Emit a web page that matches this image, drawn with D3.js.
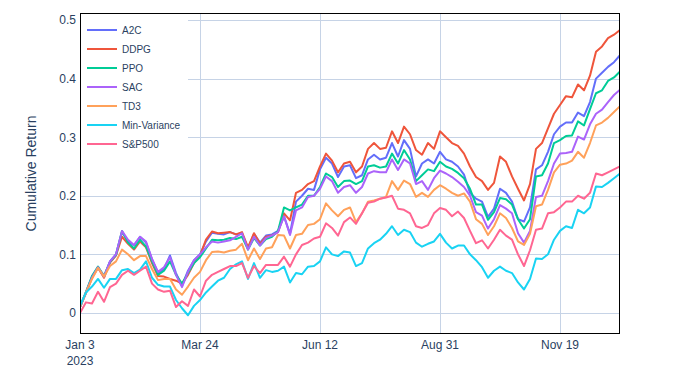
<!DOCTYPE html>
<html lang="en">
<head>
  <title>Cumulative return</title>
  <meta charset="UTF-8">
  <style>
    body {
      margin: 0;
      background: #fff;
      font-family: "Liberation Sans", Arial, sans-serif;
    }
  </style>
  <script src="https://cdn.jsdelivr.net/npm/d3@7"></script>
</head>
<body>
<script>
  var dates = [
    "2023-01-03", "2023-01-07", "2023-01-11", "2023-01-15", "2023-01-19", "2023-01-23", "2023-01-27", "2023-01-31",
    "2023-02-04", "2023-02-08", "2023-02-12", "2023-02-16", "2023-02-20", "2023-02-24", "2023-02-28",
    "2023-03-04", "2023-03-08", "2023-03-12", "2023-03-16", "2023-03-20", "2023-03-24", "2023-03-28",
    "2023-04-01", "2023-04-05", "2023-04-09", "2023-04-13", "2023-04-17", "2023-04-21", "2023-04-25", "2023-04-29",
    "2023-05-03", "2023-05-07", "2023-05-11", "2023-05-15", "2023-05-19", "2023-05-23", "2023-05-27", "2023-05-31",
    "2023-06-04", "2023-06-08", "2023-06-12", "2023-06-16", "2023-06-20", "2023-06-24", "2023-06-28",
    "2023-07-02", "2023-07-06", "2023-07-10", "2023-07-14", "2023-07-18", "2023-07-22", "2023-07-26", "2023-07-30",
    "2023-08-03", "2023-08-07", "2023-08-11", "2023-08-15", "2023-08-19", "2023-08-23", "2023-08-27", "2023-08-31",
    "2023-09-04", "2023-09-08", "2023-09-12", "2023-09-16", "2023-09-20", "2023-09-24", "2023-09-28",
    "2023-10-02", "2023-10-06", "2023-10-10", "2023-10-14", "2023-10-18", "2023-10-22", "2023-10-26", "2023-10-30",
    "2023-11-03", "2023-11-07", "2023-11-11", "2023-11-15", "2023-11-19", "2023-11-23", "2023-11-27",
    "2023-12-01", "2023-12-05", "2023-12-09", "2023-12-13", "2023-12-17", "2023-12-21", "2023-12-25", "2023-12-29"
  ];

  var a2c = [.01, .035, .062, .078, .062, .088, .1, .138, .122, .115, .13, .12, .092, .068, .075, .098, .068, .046, .072, .09,
    .1, .122, .137, .135, .134, .138, .134, .136, .11, .135, .12, .132, .134, .14, .165, .135, .19, .2, .212, .21,
    .245, .265, .255, .232, .25, .252, .23, .235, .262, .27, .262, .265, .29, .267, .295, .28, .233, .255, .262, .255,
    .275, .262, .258, .25, .236, .205, .195, .19, .164, .178, .212, .205, .19, .16, .156, .18, .245, .252, .275, .305,
    .318, .325, .325, .342, .336, .36, .4, .41, .42, .428, .44];

  var ddpg = [.01, .034, .06, .077, .06, .086, .098, .13, .118, .108, .122, .112, .085, .063, .062, .058, .055, .05, .065, .085,
    .098, .125, .139, .136, .137, .138, .134, .138, .112, .136, .118, .13, .132, .138, .17, .158, .205, .21, .22, .225,
    .25, .272, .26, .24, .255, .258, .24, .25, .28, .29, .28, .282, .31, .29, .318, .305, .278, .27, .29, .28,
    .31, .3, .29, .285, .272, .25, .232, .225, .21, .222, .267, .258, .233, .212, .192, .22, .28, .29, .315, .34,
    .355, .37, .368, .39, .38, .405, .446, .455, .469, .475, .483];

  var ppo = [.01, .036, .063, .079, .063, .087, .099, .14, .12, .11, .125, .113, .088, .065, .072, .088, .065, .05, .068, .085,
    .095, .11, .125, .124, .125, .128, .126, .13, .108, .128, .115, .126, .13, .14, .18, .175, .18, .185, .2, .2,
    .215, .238, .232, .215, .225, .226, .22, .225, .25, .252, .248, .25, .272, .255, .278, .262, .225, .235, .245, .242,
    .258, .25, .246, .239, .23, .212, .185, .185, .159, .172, .196, .194, .185, .16, .144, .16, .233, .235, .255, .29,
    .295, .302, .303, .327, .32, .348, .375, .38, .396, .402, .412];

  var sac = [.01, .035, .06, .078, .062, .088, .1, .14, .125, .116, .13, .122, .092, .07, .078, .095, .065, .044, .07, .09,
    .1, .112, .122, .12, .122, .124, .13, .136, .108, .13, .115, .128, .132, .138, .165, .133, .175, .18, .198, .2,
    .212, .233, .225, .205, .215, .218, .205, .215, .238, .242, .24, .24, .262, .244, .262, .255, .22, .225, .21, .23,
    .243, .238, .232, .224, .215, .2, .172, .166, .144, .16, .184, .178, .17, .136, .12, .14, .198, .2, .225, .255,
    .272, .273, .275, .301, .296, .322, .34, .347, .36, .372, .381];

  var td3 = [.01, .035, .058, .077, .062, .08, .088, .108, .1, .09, .097, .097, .075, .056, .058, .058, .04, .031, .045, .06,
    .07, .09, .104, .105, .103, .106, .108, .118, .09, .11, .092, .11, .112, .133, .132, .11, .133, .135, .15, .152,
    .16, .187, .175, .165, .176, .18, .155, .17, .19, .192, .195, .198, .225, .21, .226, .22, .198, .205, .198, .21,
    .218, .212, .205, .2, .204, .19, .16, .152, .133, .148, .17, .162, .145, .122, .116, .135, .182, .185, .21, .24,
    .253, .255, .26, .275, .265, .29, .32, .325, .333, .343, .353];

  var minVar = [.012, .035, .045, .058, .043, .058, .058, .073, .075, .068, .074, .088, .06, .048, .045, .045, .022, .008, -.004, .012,
    .022, .035, .045, .055, .06, .075, .083, .088, .058, .085, .06, .073, .07, .072, .079, .052, .068, .066, .079, .08,
    .088, .112, .1, .097, .105, .103, .08, .085, .11, .119, .125, .135, .148, .133, .142, .138, .12, .113, .118, .122,
    .135, .12, .11, .115, .115, .1, .09, .078, .06, .072, .079, .072, .068, .052, .04, .058, .093, .092, .1, .125,
    .14, .148, .145, .176, .17, .18, .216, .215, .222, .23, .238];

  var sp500 = [0, .018, .016, .036, .019, .044, .05, .065, .072, .065, .072, .079, .05, .04, .036, .038, .01, .02, .012, .04,
    .028, .055, .065, .07, .075, .08, .08, .085, .06, .08, .068, .082, .082, .082, .096, .079, .1, .116, .12, .127,
    .13, .153, .145, .132, .155, .163, .152, .17, .188, .19, .195, .197, .2, .178, .176, .17, .148, .145, .15, .17,
    .179, .176, .165, .173, .162, .14, .119, .124, .11, .125, .142, .132, .125, .1, .08, .107, .142, .144, .17, .172,
    .18, .19, .19, .2, .195, .205, .238, .235, .24, .245, .25];

  var seriesNames = ["A2C", "DDPG", "PPO", "SAC", "TD3", "Min-Variance", "S&P500"];
  var seriesValues = [a2c, ddpg, ppo, sac, td3, minVar, sp500];
  var colors = ["#636efa", "#ef553b", "#00cc96", "#ab63fa", "#ffa15a", "#19d3f3", "#ff6692"];

  var xTickDates = ["2023-01-03", "2023-03-24", "2023-06-12", "2023-08-31", "2023-11-19"];
  var xTickLabels = ["Jan 3", "Mar 24", "Jun 12", "Aug 31", "Nov 19"];
  var yTicks = [0, 0.1, 0.2, 0.3, 0.4, 0.5];

  var W = 700, H = 377;
  var margin = {left: 80, right: 80, top: 13, bottom: 43};
  var parse = d3.timeParse("%Y-%m-%d");
  var textColor = "#2a3f5f";
  var gridColor = "#c6d3e6";

  var x = d3.scaleTime()
    .domain([parse(dates[0]), parse(dates[dates.length - 1])])
    .range([margin.left, W - margin.right]);
  var y = d3.scaleLinear()
    .domain([-0.036, 0.512])
    .range([H - margin.bottom, margin.top]);

  var svg = d3.select("body").append("svg")
    .attr("width", W)
    .attr("height", H)
    .style("display", "block");

  svg.append("defs").append("clipPath").attr("id", "plotclip")
    .append("rect")
    .attr("x", margin.left).attr("y", margin.top)
    .attr("width", W - margin.left - margin.right)
    .attr("height", H - margin.top - margin.bottom);

  // grid
  var grid = svg.append("g").attr("stroke", gridColor).attr("stroke-width", 1);
  grid.selectAll("line.h")
    .data(yTicks)
    .enter().append("line")
    .attr("x1", margin.left).attr("x2", W - margin.right)
    .attr("y1", function(d) { return Math.round(y(d)) + 0.5; })
    .attr("y2", function(d) { return Math.round(y(d)) + 0.5; });
  grid.selectAll("line.v")
    .data(xTickDates.slice(1))
    .enter().append("line")
    .attr("y1", margin.top).attr("y2", H - margin.bottom)
    .attr("x1", function(d) { return Math.round(x(parse(d))) + 0.5; })
    .attr("x2", function(d) { return Math.round(x(parse(d))) + 0.5; });

  // lines
  var line = d3.line()
    .x(function(d) { return x(d.date); })
    .y(function(d) { return y(d.value); });

  var plot = svg.append("g").attr("clip-path", "url(#plotclip)");
  seriesValues.forEach(function(vals, i) {
    var pts = vals.map(function(v, j) { return {date: parse(dates[j]), value: v}; });
    plot.append("path")
      .datum(pts)
      .attr("fill", "none")
      .attr("stroke", colors[i])
      .attr("stroke-width", 2)
      .attr("stroke-linejoin", "round")
      .attr("d", line);
  });

  // axes
  var yAxis = svg.append("g")
    .attr("transform", "translate(" + margin.left + ",0)")
    .call(d3.axisLeft(y).tickValues(yTicks).tickSize(0).tickPadding(4)
      .tickFormat(function(d) { return d === 0 ? "0" : d3.format(".1f")(d); }));
  yAxis.select(".domain").remove();
  yAxis.selectAll("text")
    .attr("fill", textColor)
    .style("font-size", "12px")
    .style("font-family", "'Liberation Sans', Arial, sans-serif");

  var xLabels = svg.append("g");
  xTickDates.forEach(function(d, i) {
    xLabels.append("text")
      .attr("x", x(parse(d)))
      .attr("y", H - margin.bottom + 15)
      .attr("text-anchor", "middle")
      .attr("fill", textColor)
      .style("font-size", "12px")
      .text(xTickLabels[i]);
    if (i === 0) {
      xLabels.append("text")
        .attr("x", x(parse(d)))
        .attr("y", H - margin.bottom + 31)
        .attr("text-anchor", "middle")
        .attr("fill", textColor)
        .style("font-size", "12px")
        .text("2023");
    }
  });

  svg.append("text")
    .attr("transform", "translate(31," + ((margin.top + H - margin.bottom) / 2) + ")rotate(-90)")
    .attr("text-anchor", "middle")
    .attr("dominant-baseline", "central")
    .attr("fill", textColor)
    .style("font-size", "14px")
    .text("Cumulative Return");

  // legend
  var legend = svg.append("g");
  legend.append("rect")
    .attr("x", margin.left + 1).attr("y", margin.top + 1)
    .attr("width", 107).attr("height", 142)
    .attr("fill", "#fff");
  seriesNames.forEach(function(name, i) {
    var ly = 30 + i * 19;
    legend.append("line")
      .attr("x1", 87).attr("x2", 117)
      .attr("y1", ly).attr("y2", ly)
      .attr("stroke", colors[i])
      .attr("stroke-width", 2);
    legend.append("text")
      .attr("x", 122)
      .attr("y", ly)
      .attr("dominant-baseline", "central")
      .attr("fill", textColor)
      .style("font-size", "10px")
      .text(name);
  });

  // frame
  svg.append("rect")
    .attr("x", margin.left + 0.5).attr("y", margin.top + 0.5)
    .attr("width", W - margin.left - margin.right - 1)
    .attr("height", H - margin.top - margin.bottom - 1)
    .attr("fill", "none")
    .attr("stroke", "#000")
    .attr("stroke-width", 1);
</script>
</body>
</html>
